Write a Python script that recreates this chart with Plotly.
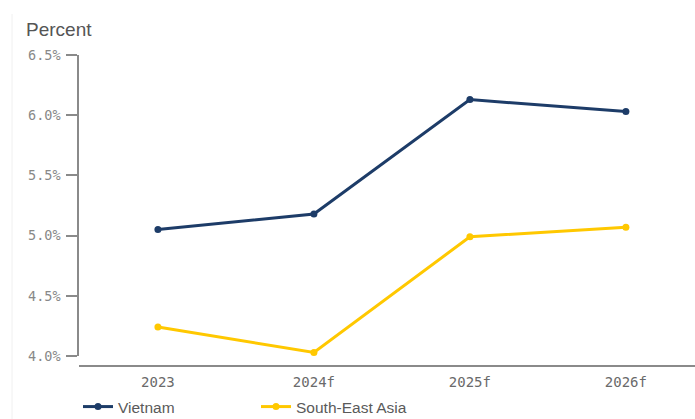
import plotly.graph_objects as go

# Real GDP growth, percent
years = ["2023", "2024f", "2025f", "2026f"]
vietnam = [5.05, 5.18, 6.13, 6.03]
south_east_asia = [4.24, 4.03, 4.99, 5.07]

y_ticks = [4.0, 4.5, 5.0, 5.5, 6.0, 6.5]

NAVY = "#1d3c68"
YELLOW = "#ffc800"
AXIS_GREY = "#8a8a8a"
MONO = "DejaVu Sans Mono, monospace"
SANS = "Liberation Sans, Arial, sans-serif"

W, H = 695, 419
L, R, T, B = 79, 0, 55, 53

fig = go.Figure()
fig.add_trace(go.Scatter(
    x=years, y=vietnam, name="Vietnam", mode="lines+markers",
    line=dict(color=NAVY, width=3), marker=dict(color=NAVY, size=7),
))
fig.add_trace(go.Scatter(
    x=years, y=south_east_asia, name="South-East Asia", mode="lines+markers",
    line=dict(color=YELLOW, width=3), marker=dict(color=YELLOW, size=7),
))

plot_h = H - T - B
y_bottom = 10 / plot_h  # value axis ends a little above the category axis line

fig.update_layout(
    width=W, height=H,
    margin=dict(l=L, r=R, t=T, b=B),
    paper_bgcolor="white", plot_bgcolor="white",
    showlegend=True,
    legend=dict(
        orientation="h", xref="container", yref="container",
        x=78 / W, y=1 - 407 / H, xanchor="left", yanchor="middle",
        font=dict(family=SANS, size=15.5, color="#5a5a5a"),
        entrywidth=133, itemwidth=30,
        bgcolor="rgba(0,0,0,0)",
    ),
    xaxis=dict(
        type="category", range=[-0.506, 3.443],
        anchor="free", position=0,
        showline=True, linecolor=AXIS_GREY, linewidth=1.5,
        showgrid=False, zeroline=False, ticks="",
        ticklabelstandoff=3,
        tickfont=dict(family=MONO, size=14, color="#6a6a6a"),
        fixedrange=True,
    ),
    yaxis=dict(
        domain=[y_bottom, 1], range=[4.0, 6.5],
        tickvals=y_ticks, ticktext=[f"{v:.1f}%" for v in y_ticks],
        showline=True, linecolor=AXIS_GREY, linewidth=1.5,
        ticks="outside", ticklen=11, tickwidth=1.5, tickcolor=AXIS_GREY,
        ticklabelstandoff=3,
        showgrid=False, zeroline=False,
        tickfont=dict(family=MONO, size=13.5, color="#888888"),
        fixedrange=True,
    ),
    annotations=[dict(
        text="Percent", xref="paper", yref="paper",
        x=(24 - L) / (W - L - R), y=1 + (T - 30) / plot_h,
        xanchor="left", yanchor="middle", showarrow=False,
        font=dict(family=SANS, size=19, color="#555555"),
    )],
    shapes=[dict(
        type="line", xref="paper", yref="paper",
        x0=(12 - L) / (W - L - R), x1=(12 - L) / (W - L - R),
        y0=1 + (T - 14) / plot_h, y1=-B / plot_h,
        line=dict(color="#f0f0f0", width=1),
    )],
)

fig.write_html("out.html")
